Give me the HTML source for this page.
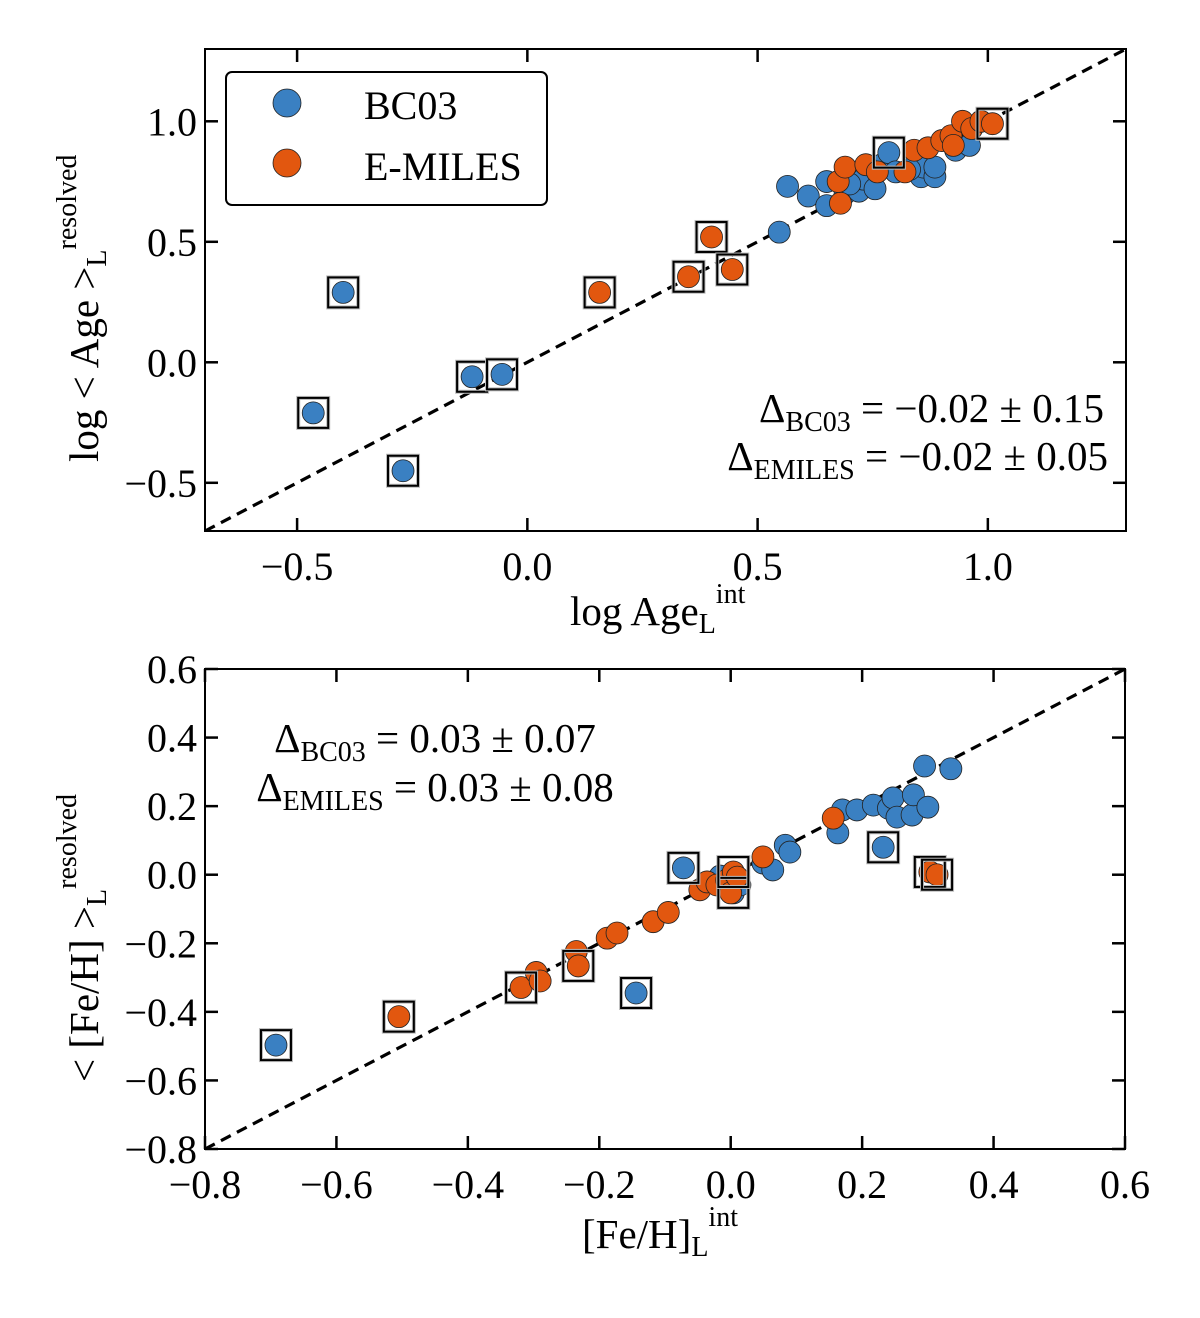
<!DOCTYPE html>
<html><head><meta charset="utf-8"><style>
body{margin:0;background:#fff}
svg{display:block;font-family:"Liberation Serif",serif}
</style></head><body>
<svg id="c" width="1200" height="1318"></svg>
<script>
// ---- Top panel data ----
const ageBcX=[-0.465,-0.40,-0.27,-0.12,-0.055,0.547,0.565,0.61,0.65,0.65,0.69,0.71,0.72,0.73,0.755,0.77,0.785,0.80,0.855,0.86,0.885,0.885,0.93,0.96,0.70,0.83];
const ageBcY=[-0.21,0.29,-0.45,-0.06,-0.05,0.54,0.73,0.69,0.75,0.65,0.70,0.76,0.71,0.76,0.72,0.82,0.87,0.79,0.77,0.81,0.77,0.81,0.88,0.90,0.74,0.80];
const ageBcBox=[1,1,1,1,1,0,0,0,0,0,0,0,0,0,0,0,1,0,0,0,0,0,0,0,0,0];
const ageEmX=[0.40,0.35,0.445,0.157,0.68,0.675,0.69,0.735,0.76,0.82,0.84,0.87,0.90,0.92,0.925,0.945,0.965,0.985,1.01];
const ageEmY=[0.52,0.355,0.385,0.29,0.66,0.75,0.81,0.82,0.79,0.79,0.88,0.89,0.92,0.94,0.90,1.0,0.97,1.0,0.99];
const ageEmBox=[1,1,1,1,0,0,0,0,0,0,0,0,0,0,0,0,0,0,1];
const ageXTicks=[-0.5,0.0,0.5,1.0];
const ageYTicks=[-0.5,0.0,0.5,1.0];
// ---- Bottom panel data ----
const feBcX=[-0.692,-0.144,-0.072,0.004,-0.016,0.014,0.049,0.064,0.083,0.09,0.163,0.17,0.192,0.217,0.232,0.24,0.247,0.253,0.276,0.278,0.295,0.30,0.335];
const feBcY=[-0.497,-0.345,0.02,-0.053,-0.004,-0.03,0.034,0.014,0.086,0.066,0.122,0.189,0.189,0.203,0.08,0.194,0.224,0.168,0.174,0.233,0.317,0.197,0.309];
const feBcBox=[1,1,1,1,0,0,0,0,0,0,0,0,0,0,1,0,0,0,0,0,0,0,0];
const feEmX=[-0.505,-0.319,-0.296,-0.29,-0.235,-0.232,-0.188,-0.173,-0.118,-0.095,-0.047,-0.036,-0.021,-0.006,0.0,0.004,0.01,0.049,0.156,0.303,0.314];
const feEmY=[-0.414,-0.329,-0.285,-0.31,-0.224,-0.266,-0.185,-0.17,-0.137,-0.11,-0.044,-0.021,-0.03,-0.016,-0.053,0.008,-0.007,0.052,0.165,0.008,0.0];
const feEmBox=[1,1,0,0,0,1,0,0,0,0,0,0,0,0,0,1,0,0,0,1,1];
const feXTicks=[-0.8,-0.6,-0.4,-0.2,0.0,0.2,0.4,0.6];
const feYTicks=[-0.8,-0.6,-0.4,-0.2,0.0,0.2,0.4,0.6];

const NS="http://www.w3.org/2000/svg";
const svg=document.getElementById('c');
function mk(tag,attrs,parent){const e=document.createElementNS(NS,tag);for(const k in attrs)e.setAttribute(k,attrs[k]);(parent||svg).appendChild(e);return e;}
const BLUE="#3a80c2", ORANGE="#e2570f";
function fmt(v){const s=Math.abs(v).toFixed(1);return (v<0?"\u2212":"")+s;}

function panel(name,L,T,R,B,xmin,xmax,ymin,ymax,xt,yt,bx,by,bb,ex,ey,eb){
  const g=mk('g',{});
  
  
  const sx=v=>L+(v-xmin)/(xmax-xmin)*(R-L);
  const sy=v=>B-(v-ymin)/(ymax-ymin)*(B-T);
  const clipId=name+'-clip';
  const cp=mk('clipPath',{id:clipId},g);mk('rect',{x:L,y:T,width:R-L,height:B-T},cp);
  const lo=Math.max(xmin,ymin),hi=Math.min(xmax,ymax);
  const ln=mk('line',{x1:sx(lo),y1:sy(lo),x2:sx(hi),y2:sy(hi),stroke:'#000','stroke-width':3.2,'stroke-dasharray':'11 7','clip-path':`url(#${clipId})`},g);
  
  
  function pts(X,Y,col,series){
    const sg=mk('g',{},g);
    
    
    for(let i=0;i<X.length;i++){
      const c=mk('circle',{cx:sx(X[i]),cy:sy(Y[i]),r:11,fill:col,stroke:'#222','stroke-width':0.8,'clip-path':`url(#${clipId})`},sg);
      
      
    }
  }
  pts(bx,by,BLUE,'bc03');pts(ex,ey,ORANGE,'emiles');
  function boxes(X,Y,F){
    for(let i=0;i<X.length;i++){if(!F[i])continue;
      const r=mk('rect',{x:sx(X[i])-15,y:sy(Y[i])-15,width:30,height:30,fill:'none',stroke:'#bbb','stroke-width':4},g);
      
      
      mk('rect',{x:sx(X[i])-15,y:sy(Y[i])-15,width:30,height:30,fill:'none',stroke:'#000','stroke-width':2},g);
    }
  }
  boxes(bx,by,bb);boxes(ex,ey,eb);
  const fr=mk('rect',{x:L,y:T,width:R-L,height:B-T,fill:'none',stroke:'#000','stroke-width':2},g);
  
  
  xt.forEach(v=>{const x=sx(v);
    mk('line',{x1:x,y1:B,x2:x,y2:B-13,stroke:'#000','stroke-width':2.5},g);
    mk('line',{x1:x,y1:T,x2:x,y2:T+13,stroke:'#000','stroke-width':2.5},g);
    const t=mk('text',{x:x,y:B+49,'text-anchor':'middle','font-size':40},g);t.textContent=fmt(v);
    
    
  });
  yt.forEach(v=>{const y=sy(v);
    mk('line',{x1:L,y1:y,x2:L+13,y2:y,stroke:'#000','stroke-width':2.5},g);
    mk('line',{x1:R,y1:y,x2:R-13,y2:y,stroke:'#000','stroke-width':2.5},g);
    const t=mk('text',{x:L-8,y:y+14,'text-anchor':'end','font-size':40},g);t.textContent=fmt(v);
    
    
  });
}
panel('age-panel',205,49,1126,531,-0.7,1.3,-0.7,1.3,ageXTicks,ageYTicks,ageBcX,ageBcY,ageBcBox,ageEmX,ageEmY,ageEmBox);
panel('feh-panel',205,669,1125,1149,-0.8,0.6,-0.8,0.6,feXTicks,feYTicks,feBcX,feBcY,feBcBox,feEmX,feEmY,feEmBox);
</script>
<svg width="1200" height="1318" style="position:absolute;left:0;top:0;font-family:'Liberation Serif',serif">
  <g>
    <rect x="226" y="72" width="321" height="133" rx="6" fill="#fff" stroke="#000" stroke-width="2"/>
    <circle cx="287" cy="103" r="14" fill="#3a80c2" stroke="#222" stroke-width="0.8"/>
    <text x="364" y="119" font-size="40">BC03</text>
    <circle cx="287" cy="163" r="14" fill="#e2570f" stroke="#222" stroke-width="0.8"/>
    <text x="364" y="180" font-size="40">E-MILES</text>
  </g>
  <text x="1104" y="422" font-size="41" text-anchor="end">Δ<tspan font-size="28" dy="9">BC03</tspan><tspan dy="-9"> = −0.02 ± 0.15</tspan></text>
  <text x="1108" y="470" font-size="41" text-anchor="end">Δ<tspan font-size="28" dy="9">EMILES</tspan><tspan dy="-9"> = −0.02 ± 0.05</tspan></text>
  <text x="435" y="752" font-size="41" text-anchor="middle">Δ<tspan font-size="28" dy="9">BC03</tspan><tspan dy="-9"> = 0.03 ± 0.07</tspan></text>
  <text x="435" y="801" font-size="41" text-anchor="middle">Δ<tspan font-size="28" dy="9">EMILES</tspan><tspan dy="-9"> = 0.03 ± 0.08</tspan></text>
  <text x="570" y="625" font-size="41">log Age<tspan font-size="28" dy="8">L</tspan><tspan font-size="28" dy="-30">int</tspan></text>
  <text x="582" y="1248" font-size="41">[Fe/H]<tspan font-size="28" dy="8">L</tspan><tspan font-size="28" dy="-30">int</tspan></text>
  <text transform="translate(98,462) rotate(-90)" font-size="41">log &lt; Age &gt;<tspan font-size="28" dy="8">L</tspan><tspan font-size="28" dy="-30">resolved</tspan></text>
  <text transform="translate(98,1082) rotate(-90)" font-size="41">&lt; [Fe/H] &gt;<tspan font-size="28" dy="8">L</tspan><tspan font-size="28" dy="-30">resolved</tspan></text>
</svg>
</body></html>
